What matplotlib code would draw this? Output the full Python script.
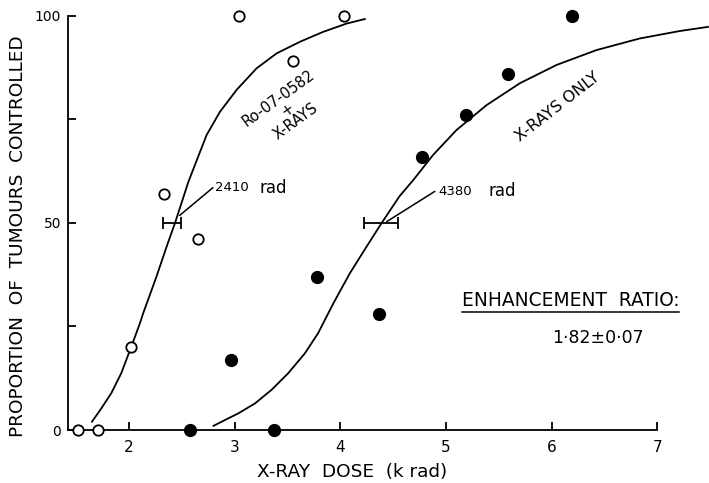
import matplotlib
matplotlib.use("Agg")
import matplotlib.pyplot as plt

# open circles: Ro-07-0582 + X-rays
ro_dose = [1.52, 1.71, 2.02, 2.33, 2.65, 3.04, 3.55, 4.04]
ro_ctrl = [0, 0, 20, 57, 46, 100, 89, 100]

# filled circles: X-rays only
xr_dose = [2.58, 3.37, 2.97, 3.78, 4.37, 4.77, 5.19, 5.59, 6.19]
xr_ctrl = [0, 0, 17, 37, 28, 66, 76, 86, 100]

# fitted curves
ro_fit_x = [1.65, 1.738, 1.833, 1.927, 2.022, 2.10, 2.135, 2.26, 2.357, 2.435,
            2.50, 2.561, 2.640, 2.735, 2.861, 3.019, 3.208, 3.397, 3.618, 3.838,
            4.06, 4.233]
ro_fit_y = [2.0, 5.2, 8.9, 13.7, 20.1, 25.5, 28.2, 37.0, 44.3, 49.9,
            55.0, 59.8, 65.0, 71.2, 76.8, 82.1, 87.3, 90.9, 93.7, 96.1,
            98.1, 99.2]
xr_fit_x = [2.80, 2.908, 3.034, 3.192, 3.35, 3.507, 3.665, 3.791, 3.933, 4.09,
            4.25, 4.39, 4.56, 4.69, 4.879, 5.10, 5.384, 5.70, 6.046, 6.425,
            6.834, 7.213, 7.48]
xr_fit_y = [1.0, 2.4, 4.0, 6.4, 9.7, 13.7, 18.5, 23.4, 30.5, 37.8,
            44.3, 49.9, 56.4, 60.3, 66.4, 72.4, 78.4, 83.7, 88.1, 91.7,
            94.5, 96.3, 97.3]

# 50% doses with error bars (k rad)
ed50 = [2.41, 4.385]
ed50_err = [0.085, 0.165]
ed50_labels = ["2410", "4380"]

x_ticks = [2, 3, 4, 5, 6, 7]
y_ticks = [0, 25, 50, 75, 100]
y_ticklabels = ["0", "", "50", "", "100"]

W, H = 709, 483
fig = plt.figure(figsize=(W / 100, H / 100), dpi=100)
ax = fig.add_axes([68 / W, 1 - 430 / H, (W - 68) / W, (430 - 15.7) / H])

ax.set_xlim(1.423, 7.49)
ax.set_ylim(0, 100)

for s in ["top", "right"]:
    ax.spines[s].set_visible(False)
ax.spines["left"].set_bounds(0, 100)
ax.spines["bottom"].set_bounds(1.423, 7)
for s in ["left", "bottom"]:
    ax.spines[s].set_linewidth(1.3)

ax.set_xticks(x_ticks)
ax.set_xticklabels([str(t) for t in x_ticks], fontsize=11)
ax.set_yticks(y_ticks)
ax.set_yticklabels(y_ticklabels, fontsize=10)
ax.tick_params(axis="both", direction="in", length=6, width=1.3)
ax.tick_params(axis="x", pad=7)
ax.tick_params(axis="y", pad=5)

# curves
ax.plot(ro_fit_x, ro_fit_y, color="black", lw=1.3, clip_on=False,
        solid_joinstyle="round")
ax.plot(xr_fit_x, xr_fit_y, color="black", lw=1.3, clip_on=False,
        solid_joinstyle="round")

# data points
ax.plot(ro_dose, ro_ctrl, "o", ms=7.5, mfc="white", mec="black", mew=1.3,
        clip_on=False, zorder=5)
ax.plot(xr_dose, xr_ctrl, "o", ms=8.5, mfc="black", mec="black",
        clip_on=False, zorder=5)

# ED50 error bars
ax.errorbar(ed50, [50, 50], xerr=ed50_err, fmt="none", ecolor="black",
            elinewidth=1.3, capsize=4, capthick=1.3)

# ED50 annotations: (line start, line end, number x, "rad" x)
ann = [((2.48, 51.8), (2.795, 58.5), 2.81, 3.24),
       ((4.44, 50.3), (4.895, 57.6), 4.93, 5.40)]
for lab, (p0, p1, tx, rx) in zip(ed50_labels, ann):
    ax.annotate("", xy=p0, xytext=p1,
                arrowprops=dict(arrowstyle="-", color="black", lw=1.1,
                                shrinkA=0, shrinkB=0))
    ax.text(tx, p1[1], lab, fontsize=9.5, ha="left", va="center")
    ax.text(rx, p1[1], "rad", fontsize=12, ha="left", va="center")

# curve labels
ax.text(3.50, 77.3, "Ro-07-0582\n+\nX-RAYS", fontsize=10.5,
        rotation=36, ha="center", va="center", linespacing=0.95,
        multialignment="center")
ax.text(6.06, 78.0, "X-RAYS ONLY", fontsize=11.5, rotation=38,
        ha="center", va="center")

# enhancement ratio
er = ax.text(6.18, 31.2, "ENHANCEMENT  RATIO:", fontsize=13.4,
             ha="center", va="center")
ax.text(6.44, 22.2, "1·82±0·07", fontsize=12.5, ha="center", va="center")

fig.canvas.draw()
bb = er.get_window_extent(fig.canvas.get_renderer())
inv = ax.transData.inverted()
(x0, y0), (x1, _) = inv.transform([(bb.x0, bb.y0), (bb.x1, bb.y0)])
ax.plot([x0, x1], [y0 - 0.5, y0 - 0.5], color="black", lw=1.1)

fig.text(18 / W, 1 - 236 / H, "PROPORTION  OF  TUMOURS  CONTROLLED",
         rotation=90, fontsize=13.3, ha="center", va="center")
fig.text(352 / W, 1 - 472 / H, "X-RAY  DOSE  (k rad)", fontsize=13.3,
         ha="center", va="center")

fig.savefig("out.png", dpi=100)
